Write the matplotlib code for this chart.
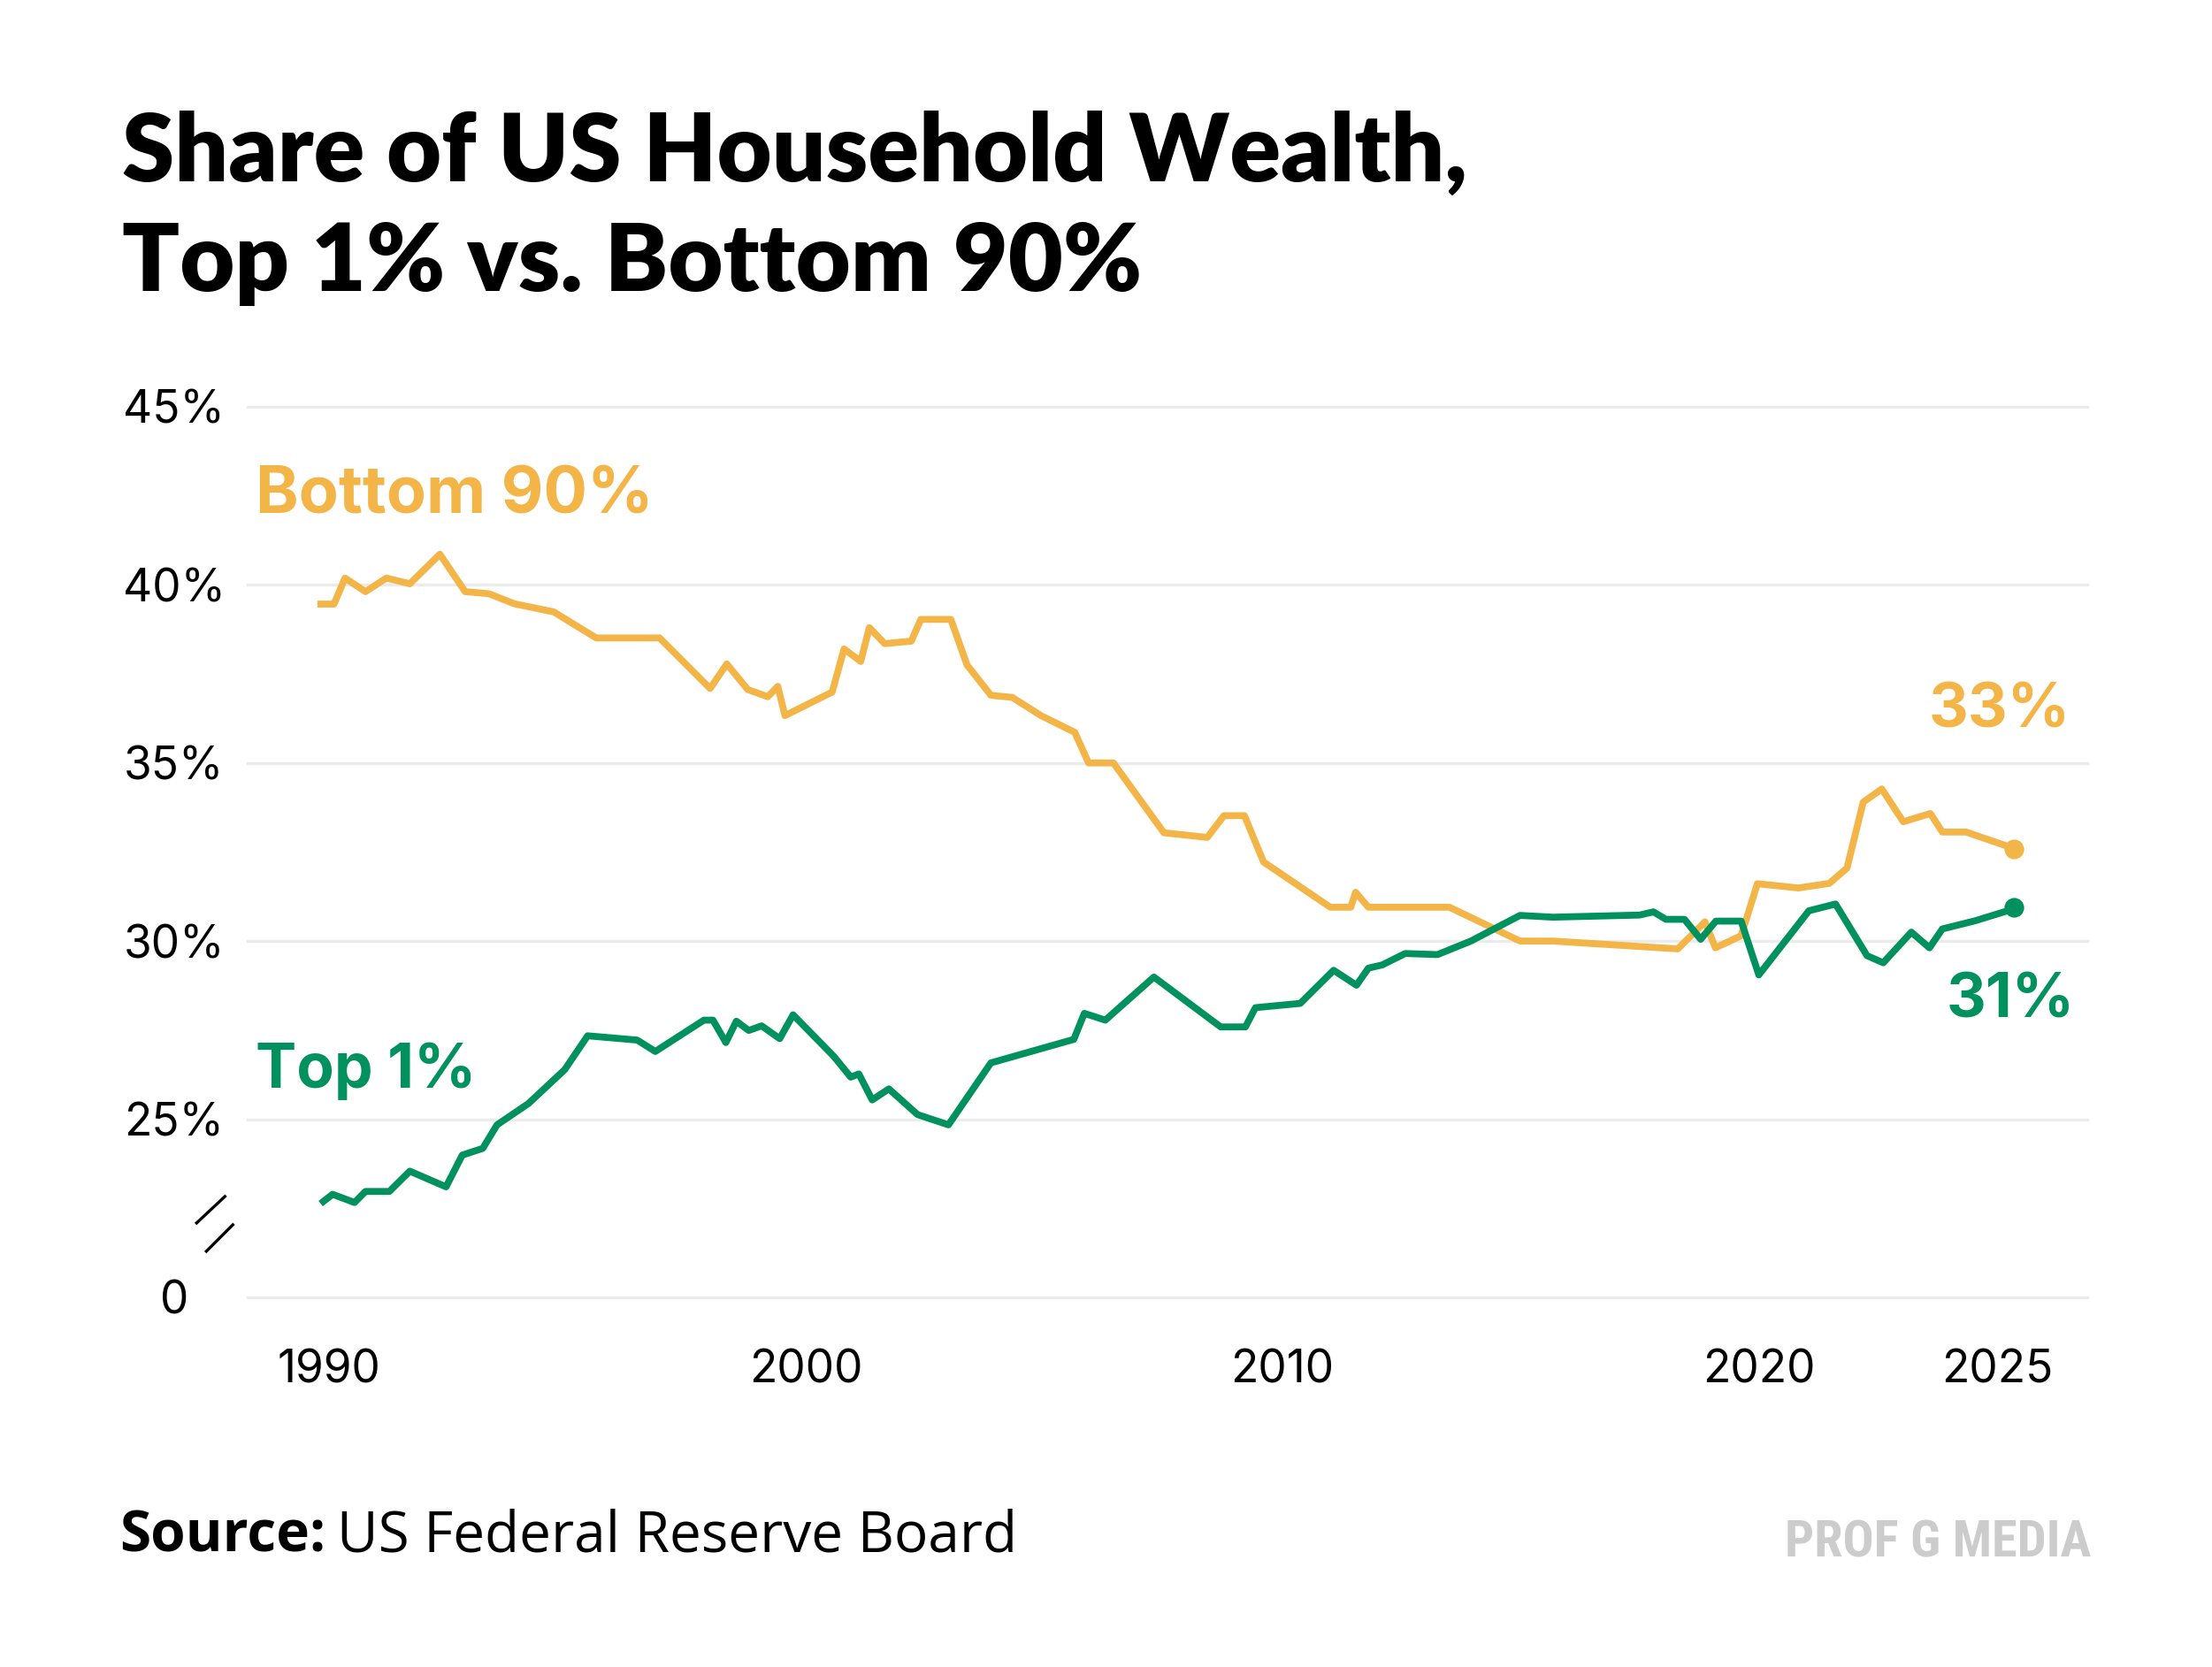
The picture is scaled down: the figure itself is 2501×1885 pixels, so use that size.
"""
Share of US household wealth held by the top 1% and the bottom 90%,
redrawn as a two-line chart with a broken y-axis.
"""

import matplotlib
matplotlib.use('Agg')
import matplotlib.pyplot as plt


# values (percent of total household wealth)
bottom90_years = [1989.75, 1990.10, 1990.33, 1990.76, 1991.20, 1991.69, 1992.32,
                  1992.85, 1993.35, 1993.88, 1994.71, 1995.60, 1996.93, 1997.99,
                  1998.34, 1998.78, 1999.20, 1999.41, 1999.56, 2000.55, 2000.80,
                  2001.15, 2001.33, 2001.65, 2002.21, 2002.41, 2003.04, 2003.38,
                  2003.88, 2004.33, 2004.93, 2005.64, 2005.93, 2006.45, 2007.51,
                  2008.42, 2008.77, 2009.20, 2009.60, 2011.00, 2011.43, 2011.53,
                  2011.80, 2013.50, 2014.98, 2015.67, 2018.29, 2018.86, 2019.08,
                  2019.62, 2019.96, 2020.82, 2021.47, 2021.84, 2022.18, 2022.57,
                  2023.02, 2023.59, 2023.84, 2024.34, 2025.21, 2025.34]
bottom90_share = [39.46, 39.46, 40.19, 39.81, 40.19, 40.03, 40.86,
                  39.81, 39.75, 39.47, 39.24, 38.51, 38.51, 37.09,
                  37.78, 37.06, 36.86, 37.15, 36.33, 36.99, 38.20,
                  37.85, 38.80, 38.35, 38.42, 39.03, 39.03, 37.75,
                  36.90, 36.84, 36.33, 35.86, 35.00, 35.00, 33.04,
                  32.91, 33.52, 33.52, 32.22, 30.95, 30.95, 31.37,
                  30.95, 30.95, 30.00, 30.00, 29.78, 30.54, 29.81,
                  30.15, 31.61, 31.49, 31.62, 32.05, 33.90, 34.27,
                  33.35, 33.58, 33.06, 33.06, 32.66, 32.59]

top1_years = [1989.82, 1990.07, 1990.53, 1990.76, 1991.26, 1991.69, 1992.45,
              1992.79, 1993.22, 1993.52, 1994.18, 1994.94, 1995.42, 1996.46,
              1996.84, 1997.86, 1998.05, 1998.32, 1998.54, 1998.80, 1999.07,
              1999.45, 1999.73, 2000.58, 2000.94, 2001.11, 2001.39, 2001.74,
              2002.34, 2002.99, 2003.88, 2005.62, 2005.84, 2006.28, 2007.30,
              2008.70, 2009.22, 2009.43, 2010.37, 2011.07, 2011.55, 2011.80,
              2012.09, 2012.57, 2013.25, 2013.95, 2014.98, 2015.67, 2017.49,
              2017.78, 2018.04, 2018.43, 2018.77, 2019.09, 2019.62, 2019.99,
              2021.04, 2021.60, 2022.26, 2022.60, 2023.19, 2023.57, 2023.84,
              2024.53, 2025.21, 2025.34]
top1_share = [22.63, 22.89, 22.66, 22.97, 22.97, 23.54, 23.10,
              23.99, 24.18, 24.84, 25.44, 26.39, 27.34, 27.22,
              26.90, 27.78, 27.78, 27.15, 27.75, 27.49, 27.62,
              27.26, 27.93, 26.77, 26.18, 26.27, 25.54, 25.85,
              25.13, 24.84, 26.58, 27.24, 27.97, 27.78, 28.99,
              27.59, 27.59, 28.13, 28.25, 29.18, 28.76, 29.24,
              29.33, 29.65, 29.62, 30.00, 30.72, 30.67, 30.73,
              30.82, 30.61, 30.61, 30.05, 30.56, 30.56, 29.05,
              30.85, 31.04, 29.59, 29.39, 30.25, 29.81, 30.34,
              30.57, 30.85, 30.95]

x_ticks = [1990, 2000, 2010, 2020, 2025]
y_ticks = [20, 25, 30, 35, 40, 45]
y_tick_labels = ['0', '25%', '30%', '35%', '40%', '45%']

YELLOW = '#F4B548'
GREEN = '#00915E'
GRID = '#EBEBEB'
TITLE_FONT = 'Lato'
LABEL_FONT = 'Inter'
BODY_FONT = 'Open Sans'


fig = plt.figure(figsize=(12.505, 9.425), dpi=200)
fig.patch.set_facecolor('white')
ax = fig.add_axes([0.112, 0.2218, 0.8316, 0.5342])

# grid lines drawn by hand so they sit exactly on the tick values
for y in y_ticks:
    ax.axhline(y, color=GRID, lw=1.2, zorder=0, clip_on=False)

ax.plot(bottom90_years, bottom90_share, color=YELLOW, lw=2.8,
        solid_joinstyle='round', solid_capstyle='butt', zorder=3)
ax.plot(top1_years, top1_share, color=GREEN, lw=2.8,
        solid_joinstyle='round', solid_capstyle='butt', zorder=3)

# dots on the latest values
ax.plot(bottom90_years[-1], bottom90_share[-1], 'o', color=YELLOW, ms=7, zorder=4)
ax.plot(top1_years[-1], top1_share[-1], 'o', color=GREEN, ms=7, zorder=4)

ax.set_xlim(1988.29, 2026.88)
ax.set_ylim(20, 45)

ax.set_xticks(x_ticks)
ax.set_xticklabels([str(t) for t in x_ticks])
ax.set_yticks(y_ticks)
ax.set_yticklabels(y_tick_labels)
ax.tick_params(axis='both', length=0, labelsize=18.5, colors='black')
ax.tick_params(axis='x', pad=21)
ax.tick_params(axis='y', pad=30)
for lab in ax.get_yticklabels():
    lab.set_horizontalalignment('center')
    lab.set_fontfamily(LABEL_FONT)
for lab in ax.get_xticklabels():
    lab.set_fontfamily(LABEL_FONT)

for side in ['top', 'right', 'bottom', 'left']:
    ax.spines[side].set_visible(False)

# axis break marks between 0 and 25%
ax.plot([-0.0278, -0.0124], [0.0834, 0.1132], color='black', lw=1.2,
        transform=ax.transAxes, clip_on=False)
ax.plot([-0.0225, -0.0081], [0.0516, 0.0814], color='black', lw=1.2,
        transform=ax.transAxes, clip_on=False)

# series labels
ax.text(1988.46, 42.0, 'Bottom 90%', color=YELLOW, fontsize=26.5,
        fontweight='bold', family=LABEL_FONT, va='baseline', ha='left')
ax.text(1988.46, 25.88, 'Top 1%', color=GREEN, fontsize=25,
        fontweight='bold', family=LABEL_FONT, va='baseline', ha='left')
ax.text(2026.52, 36.01, '33%', color=YELLOW, fontsize=25,
        fontweight='bold', family=LABEL_FONT, va='baseline', ha='right')
ax.text(2026.62, 27.85, '31%', color=GREEN, fontsize=25,
        fontweight='bold', family=LABEL_FONT, va='baseline', ha='right')

# title
fig.text(0.0552, 0.8912, 'Share of US Household Wealth,', fontsize=38.5,
         fontweight='heavy', family=TITLE_FONT, va='baseline', ha='left')
fig.text(0.0552, 0.8255, 'Top 1% vs. Bottom 90%', fontsize=38.5,
         fontweight='heavy', family=TITLE_FONT, va='baseline', ha='left')

# footer: bold "Source:" followed by regular text
src = fig.text(0.054, 0.0690, 'Source:', fontsize=23, fontweight='bold',
               family=BODY_FONT, va='baseline', ha='left')
fig.canvas.draw()
bb = src.get_window_extent()
x_next = (bb.x1 + 13) / fig.bbox.width
fig.text(x_next, 0.0690, 'US Federal Reserve Board', fontsize=23,
         family=BODY_FONT, va='baseline', ha='left')

fig.text(0.9455, 0.0660, 'PROF G MEDIA', fontsize=21, fontweight='bold',
         fontstretch='condensed', family=['Roboto Condensed', 'Roboto'],
         color='#CCCCCC', va='baseline', ha='right')

fig.savefig('out.png', dpi=200, facecolor='white')
